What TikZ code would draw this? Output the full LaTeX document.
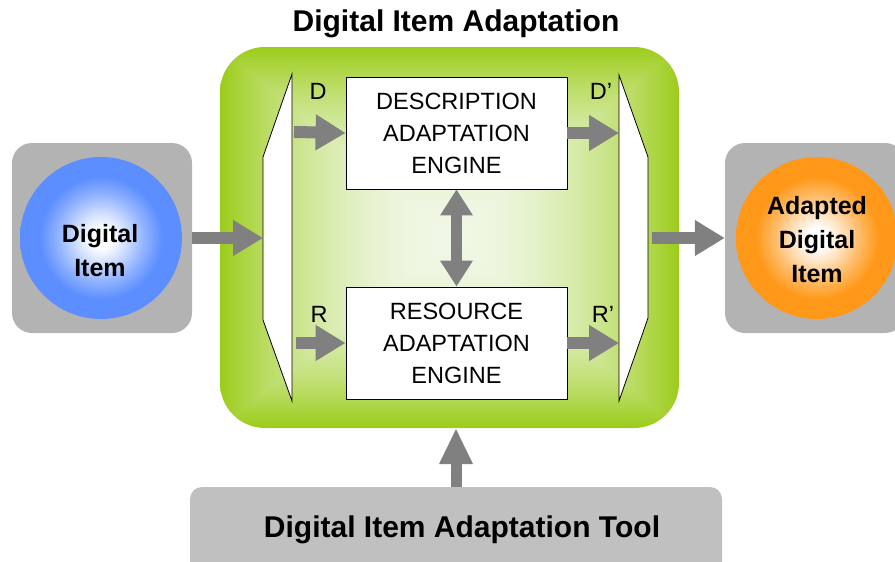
\documentclass[tikz,border=0pt]{standalone}
\usepackage{fontspec}
\setmainfont{Liberation Sans}
\usetikzlibrary{arrows.meta}
\definecolor{blueC}{RGB}{92,142,255}
\definecolor{orangeC}{RGB}{255,152,25}
\definecolor{grayBox}{RGB}{179,179,179}
\definecolor{toolGray}{RGB}{192,192,192}
\definecolor{arrowGray}{RGB}{128,128,128}
\pgfdeclareradialshading{bluesh}{\pgfpoint{0bp}{0bp}}{color(0bp)=(white); color(3bp)=(white); color(8bp)=(blueC!30!white); color(13bp)=(blueC!65!white); color(19bp)=(blueC); color(25bp)=(blueC); color(50bp)=(blueC)}
\pgfdeclareradialshading{orangesh}{\pgfpoint{0bp}{0bp}}{color(0bp)=(white); color(3bp)=(white); color(8bp)=(orangeC!30!white); color(13bp)=(orangeC!65!white); color(19bp)=(orangeC); color(25bp)=(orangeC); color(50bp)=(orangeC)}
\pgfdeclarefunctionalshading{greenglow}{\pgfpointorigin}{\pgfpoint{100bp}{100bp}}{}{
  50 sub abs 25 div exch 50 sub abs 25 div
  2 copy sub abs add add 2 div
  dup 1 sub abs neg add 1 add 2 div
  dup mul
  dup dup
  -0.33 mul 0.94 add
  3 1 roll
  -0.17 mul 0.97 add
  exch
  -0.80 mul 0.90 add
}
\begin{document}
\begin{tikzpicture}[x=1pt,y=-1pt,
  garrow/.style={draw=arrowGray, line width=12pt, -{Triangle[length=30pt,width=34pt]}},
  sidebox/.style={fill=grayBox, rounded corners=20pt, minimum width=180pt, minimum height=190pt, inner sep=0pt},
  ball/.style={circle, minimum size=162pt, inner sep=0pt},
  balltext/.style={font=\fontsize{25}{34}\selectfont\bfseries, align=center, inner sep=0pt},
  engine/.style={draw=black, line width=0.8pt, fill=white, minimum width=221pt, minimum height=112pt, inner sep=0pt, align=center, font=\fontsize{23.5}{32}\selectfont},
  trap/.style={draw=black, line width=0.8pt, fill=white},
  lbl/.style={font=\fontsize{23.5}{28}\selectfont, inner sep=0pt},
  bigtext/.style={font=\fontsize{30}{36}\selectfont\bfseries, inner sep=0pt}]
\useasboundingbox (0,0) rectangle (895,562);
\clip (0,0) rectangle (895,562);

% title
\node[bigtext] (title) at (456,24) {Digital Item Adaptation};

% green adaptation box
\node[shading=greenglow, rounded corners=45pt, minimum width=459pt, minimum height=381pt, inner sep=0pt] (dia) at (449.5,237.5) {};

% left/right gray boxes and balls
\node[sidebox] (lbox) at (102,238) {};
\node[ball, shading=bluesh] (lball) at (101,238) {};
\node[balltext] (ltext) at (100,251) {Digital\\Item};

\node[sidebox] (rbox) at (815,238) {};
\node[ball, shading=orangesh] (rball) at (817,238) {};
\node[balltext] (rtext) at (817,240) {Adapted\\Digital\\Item};

% tool box
\node[fill=toolGray, rounded corners=12pt, minimum width=532pt, minimum height=88pt, inner sep=0pt] (tool) at (456,531) {};
\node[bigtext] (tooltxt) at (462,530) {Digital Item Adaptation Tool};

% trapezoids
\draw[trap] (292,74) -- (263,157) -- (263,320) -- (292,401) -- cycle;
\draw[trap] (619,75) -- (648,157) -- (648,318) -- (619,401) -- cycle;
\coordinate (lin) at (263,238);
\coordinate (ldo) at (294,132);
\coordinate (lro) at (296,343);
\coordinate (rdi) at (619,133);
\coordinate (rri) at (619,343);
\coordinate (rout) at (652,238);
\coordinate (diabot) at (456,428);

% engines
\node[engine] (desc) at (456.5,133) {DESCRIPTION\\ADAPTATION\\ENGINE};
\node[engine] (res) at (456.5,343) {RESOURCE\\ADAPTATION\\ENGINE};

% labels
\node[lbl] (lD) at (318,91) {D};
\node[lbl] (lD2) at (601,91) {D’};
\node[lbl] (lR) at (319,314) {R};
\node[lbl] (lR2) at (603,314) {R’};

% arrows
\draw[garrow] (lbox.east) -- (lin);
\draw[garrow] (ldo) -- (desc.west);
\draw[garrow] (lro) -- (res.west);
\draw[garrow] (desc.east) -- (rdi);
\draw[garrow] (res.east) -- (rri);
\draw[garrow] (rout) -- (rbox.west);
\draw[draw=arrowGray, line width=11pt, {Triangle[length=26pt,width=31pt]}-{Triangle[length=26pt,width=31pt]}] (desc.south) -- (res.north);
\draw[draw=arrowGray, line width=11pt, -{Triangle[length=36pt,width=31pt]}] (tool.north -| diabot) -- (diabot);
\end{tikzpicture}
\end{document}
